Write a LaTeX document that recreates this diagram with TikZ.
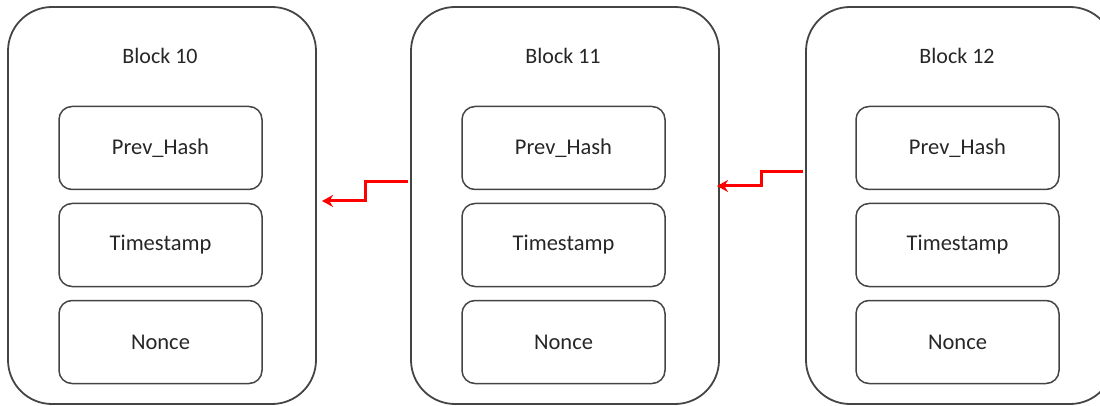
\documentclass[tikz,border=0pt]{standalone}
\usepackage{fontspec}
\setmainfont{Carlito}
\usetikzlibrary{arrows.meta}
\definecolor{edge}{HTML}{444444}
\definecolor{link}{HTML}{FF0000}
\tikzset{
  blockbox/.style={draw=edge, line width=1.8pt, rounded corners=44pt, minimum width=308pt, minimum height=397pt, inner sep=0pt},
  fieldbox/.style={draw=edge, line width=1.5pt, rounded corners=13pt, minimum width=203pt, minimum height=83pt, inner sep=0pt, font=\fontsize{22.5}{26}\selectfont, text=black!85},
  blocktitle/.style={font=\fontsize{22}{26}\selectfont, text=black!85},
  linkarrow/.style={draw=link, line width=3pt, -{Stealth[length=11pt,width=12pt]}}
}
\begin{document}
\begin{tikzpicture}[x=1pt,y=-1pt]
\useasboundingbox (0,0) rectangle (1100,406);
\begin{scope}
\clip (0,0) rectangle (1100,406);
% outer blocks
\node[blockbox] (b10) at (162,205.5) {};
\node[blockbox] (b11) at (565,205.5) {};
\node[blockbox] (b12) at (960,205.5) {};
\end{scope}
% titles
\node[blocktitle] (t10) at (160,56) {Block 10};
\node[blocktitle] (t11) at (563,56) {Block 11};
\node[blocktitle] (t12) at (957,56) {Block 12};
% fields of each block
\foreach \n/\cx in {10/160.5, 11/563.5, 12/957.5} {
  \node[fieldbox] (p\n) at (\cx,148) {Prev\_Hash};
  \node[fieldbox] (ts\n) at (\cx,245) {Timestamp};
  \node[fieldbox] (nc\n) at (\cx,342) {Nonce};
}
% hash links pointing back to the previous block
\coordinate (a1s) at (408,182);
\coordinate (a1e) at (322,201);
\draw[linkarrow] (a1s) -- (365,182) -- (365,201) -- (a1e);
\coordinate (a2s) at (803,172);
\coordinate (a2e) at (717,186);
\draw[linkarrow] (a2s) -- (761,172) -- (761,186) -- (a2e);
\end{tikzpicture}
\end{document}
